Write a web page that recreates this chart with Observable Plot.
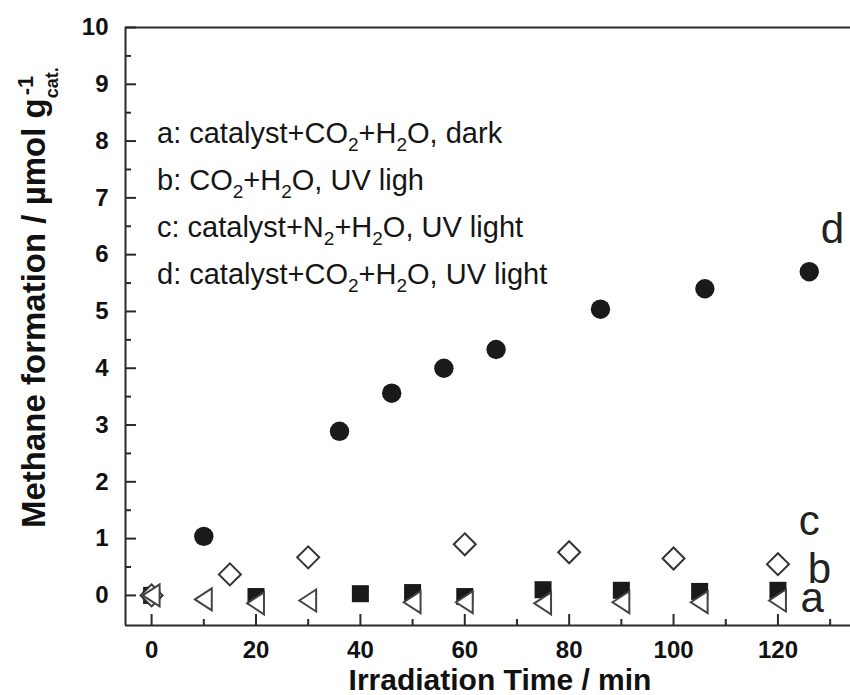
<!DOCTYPE html>
<html>
<head>
<meta charset="utf-8">
<script src="https://cdn.jsdelivr.net/npm/d3@7"></script>
<script src="https://cdn.jsdelivr.net/npm/@observablehq/plot@0.6"></script>
<style>
  html, body { margin: 0; padding: 0; background: #fff; }
  svg { display: block; }
</style>
</head>
<body>
<div id="chart"></div>
<script>
// ---- data ----
// a: catalyst+CO2+H2O, dark  (open left triangles)
const timeA = [0, 10, 20, 30, 50, 60, 75, 90, 105, 120];
const methaneA = [0, -0.07, -0.14, -0.09, -0.12, -0.12, -0.14, -0.12, -0.12, -0.09];
// b: CO2+H2O, UV light (filled squares)
const timeB = [0, 20, 40, 50, 60, 75, 90, 105, 120];
const methaneB = [0, -0.02, 0.03, 0.05, -0.02, 0.1, 0.09, 0.07, 0.09];
// c: catalyst+N2+H2O, UV light (open diamonds)
const timeC = [0, 15, 30, 60, 80, 100, 120];
const methaneC = [0, 0.37, 0.67, 0.9, 0.76, 0.65, 0.55];
// d: catalyst+CO2+H2O, UV light (filled circles)
const timeD = [0, 10, 36, 46, 56, 66, 86, 106, 126];
const methaneD = [0, 1.04, 2.89, 3.56, 4.0, 4.33, 5.04, 5.4, 5.7];

// series end labels
const labelText = ["a", "b", "c", "d"];
const labelTime = [124.3, 125.7, 124, 128.2];
const labelMethane = [-0.3, 0.21, 1.06, 6.2];

// legend lines ({...} = subscript)
const legendLines = [
  "a: catalyst+CO{2}+H{2}O, dark",
  "b: CO{2}+H{2}O, UV ligh",
  "c: catalyst+N{2}+H{2}O, UV light",
  "d: catalyst+CO{2}+H{2}O, UV light"
];

// axes
const xDomain = [-5, 133.9];
const yDomain = [-0.53, 10];
const xMajor = [0, 20, 40, 60, 80, 100, 120];
const xMinor = [10, 30, 50, 70, 90, 110, 130];
const yMajor = [0, 1, 2, 3, 4, 5, 6, 7, 8, 9, 10];
const yMinor = [0.5, 1.5, 2.5, 3.5, 4.5, 5.5, 6.5, 7.5, 8.5, 9.5];
const xTitle = "Irradiation Time / min";
const yTitleMain = "Methane formation / µmol g";
const yTitleSub = "cat.";
const yTitleSup = "-1";

// ---- build tables ----
const mk = (ts, vs) => ts.map((t, i) => ({time: t, methane: vs[i]}));
const dataA = mk(timeA, methaneA);
const dataB = mk(timeB, methaneB);
const dataC = mk(timeC, methaneC);
const dataD = mk(timeD, methaneD);
const labels = labelText.map((s, i) => ({s, time: labelTime[i], methane: labelMethane[i]}));

const leftTriangle = {
  draw(context, size) {
    const s = Math.sqrt(size);
    context.moveTo(-0.5 * s, 0);
    context.lineTo(0.45 * s, -0.62 * s);
    context.lineTo(0.45 * s, 0.62 * s);
    context.closePath();
  }
};

const FONT = "Liberation Sans, Arial, Helvetica, sans-serif";
const AX = "#2a2a2a";

const chart = Plot.plot({
  width: 850,
  height: 695,
  marginLeft: 125,
  marginRight: 0,
  marginTop: 27,
  marginBottom: 70,
  style: {fontFamily: FONT, background: "#fff"},
  x: {domain: xDomain},
  y: {domain: yDomain},
  marks: [
    // frame lines
    Plot.ruleX([xDomain[0]], {stroke: AX, strokeWidth: 2}),
    Plot.ruleY([yDomain[0], yDomain[1]], {stroke: AX, strokeWidth: 2}),
    // inward ticks
    Plot.axisX(xMajor, {tickSize: -11, tickFormat: () => "", stroke: AX, strokeWidth: 2, label: null}),
    Plot.axisX(xMinor, {tickSize: -6, tickFormat: () => "", stroke: AX, strokeWidth: 2, label: null}),
    Plot.axisY(yMajor, {tickSize: -11, tickFormat: () => "", stroke: AX, strokeWidth: 2, label: null}),
    Plot.axisY(yMinor, {tickSize: -6, tickFormat: () => "", stroke: AX, strokeWidth: 2, label: null}),
    // tick labels
    Plot.axisX(xMajor, {tickSize: 0, tickPadding: 15, fontSize: 24, fontWeight: "bold", fill: "#111", label: null, tickFormat: d => String(d)}),
    Plot.axisY(yMajor, {tickSize: 0, tickPadding: 17, fontSize: 24, fontWeight: "bold", fill: "#111", label: null, tickFormat: d => String(d)}),
    // data
    Plot.dot(dataD, {x: "time", y: "methane", symbol: "circle", r: 9.7, fill: "#1a1a1a"}),
    Plot.dot(dataB, {x: "time", y: "methane", symbol: "square", r: 9.6, fill: "#1a1a1a"}),
    Plot.dot(dataC, {x: "time", y: "methane", symbol: "diamond2", r: 9.9, fill: "#fff", stroke: "#333", strokeWidth: 2}),
    Plot.dot(dataA, {x: "time", y: "methane", symbol: leftTriangle, r: 10, fill: "#fff", stroke: "#444", strokeWidth: 2}),
    // end labels
    Plot.text(labels, {x: "time", y: "methane", text: "s", fontSize: 42, fill: "#222", textAnchor: "start", lineAnchor: "bottom"}),
    // x title
    Plot.text([xTitle], {frameAnchor: "bottom", text: d => d, dx: 12, dy: 64, lineAnchor: "bottom", fontSize: 30, fontWeight: "bold", fill: "#111"})
  ]
});

document.getElementById("chart").appendChild(chart);

// ---- rich text: legend and y title (with sub/superscripts) ----
const svg = d3.select(chart);

const legend = svg.append("g")
  .attr("font-family", FONT).attr("font-size", 29).attr("fill", "#151515")
  .attr("text-anchor", "start");
legendLines.forEach((line, i) => {
  const t = legend.append("text").attr("x", 157).attr("y", 143 + i * 47).attr("text-anchor", "start");
  const parts = line.split(/(\{[^}]*\})/).filter(p => p.length);
  let shifted = false;
  parts.forEach(p => {
    if (p.startsWith("{")) {
      t.append("tspan").attr("font-size", 19).attr("dy", 8).text(p.slice(1, -1));
      shifted = true;
    } else {
      const ts = t.append("tspan").text(p);
      if (shifted) { ts.attr("dy", -8); shifted = false; }
    }
  });
});

const yt = svg.append("text")
  .attr("transform", "translate(45,528) rotate(-90)")
  .attr("text-anchor", "start")
  .attr("font-family", FONT)
  .attr("font-weight", "bold")
  .attr("font-size", 33)
  .attr("fill", "#111");
yt.append("tspan").text(yTitleMain);
const sub = yt.append("tspan").attr("font-size", 18).attr("dy", 13).text(yTitleSub);
const subW = sub.node().getComputedTextLength();
yt.append("tspan").attr("font-size", 22).attr("dx", -(subW - 3)).attr("dy", -25).text(yTitleSup);
</script>
</body>
</html>
